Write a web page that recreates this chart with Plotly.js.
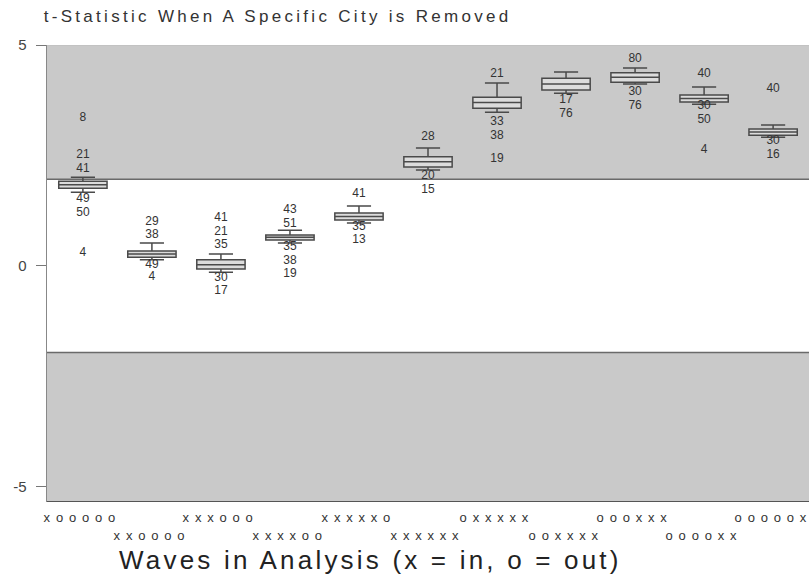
<!DOCTYPE html>
<html>
<head>
<meta charset="utf-8">
<script src="https://cdn.plot.ly/plotly-3.0.1.min.js"></script>
<style>
  body { margin: 0; background: #fff; }
  #chart { width: 809px; height: 576px; }
  .gtitle { letter-spacing: 3.3px; }
  .wavelab .annotation-text { letter-spacing: 5.8px; }
  .axtitle .annotation-text { letter-spacing: 3.2px; }
</style>
</head>
<body>
<div id="chart"></div>
<script>
// ---- data ----
const categories = ["xooooo", "xxoooo", "xxxooo", "xxxxoo", "xxxxxo", "xxxxxx",
                    "oxxxxx", "ooxxxx", "oooxxx", "ooooxx", "ooooox"];
const q1Vals     = [1.76, 0.20, -0.07, 0.59, 1.04, 2.24, 3.57, 3.98, 4.16, 3.71, 2.96];
const medianVals = [1.84, 0.27,  0.03, 0.65, 1.12, 2.36, 3.70, 4.12, 4.27, 3.79, 3.03];
const q3Vals     = [1.92, 0.34,  0.14, 0.70, 1.20, 2.47, 3.82, 4.25, 4.37, 3.87, 3.10];
const lowerVals  = [1.67, 0.14, -0.14, 0.52, 0.97, 2.17, 3.48, 3.91, 4.12, 3.66, 2.91];
const upperVals  = [2.01, 0.52,  0.27, 0.81, 1.36, 2.67, 4.14, 4.39, 4.48, 4.05, 3.19];

// outlying cities: category index, t-statistic, city label
const outCat   = [0, 0, 0, 0, 0, 0,
                  1, 1, 1, 1,
                  2, 2, 2, 2, 2,
                  3, 3, 3, 3, 3,
                  4, 4, 4,
                  5, 5, 5,
                  6, 6, 6, 6,
                  7, 7,
                  8, 8, 8,
                  9, 9, 9, 9,
                  10, 10, 10];
const outVal   = [3.35, 2.50, 2.20, 1.52, 1.20, 0.29,
                  1.00, 0.70, 0.02, -0.26,
                  1.08, 0.77, 0.47, -0.28, -0.56,
                  1.26, 0.95, 0.42, 0.12, -0.18,
                  1.62, 0.88, 0.58,
                  2.92, 2.04, 1.73,
                  4.34, 3.25, 2.93, 2.42,
                  3.76, 3.45,
                  4.68, 3.94, 3.63,
                  4.34, 3.62, 3.31, 2.62,
                  4.00, 2.82, 2.50];
const outCity  = ["8", "21", "41", "49", "50", "4",
                  "29", "38", "49", "4",
                  "41", "21", "35", "30", "17",
                  "43", "51", "35", "38", "19",
                  "41", "35", "13",
                  "28", "20", "15",
                  "21", "33", "38", "19",
                  "17", "76",
                  "80", "30", "76",
                  "40", "30", "50", "4",
                  "40", "30", "16"];

const yTickVals = [-5, 0, 5];
const critical = 1.96;
const xTitle = "Waves in Analysis (x = in, o = out)";

// ---- traces ----
const catIdx = categories.map((_, i) => i);

const boxTrace = {
  type: "box",
  x: catIdx,
  q1: q1Vals,
  median: medianVals,
  q3: q3Vals,
  lowerfence: lowerVals,
  upperfence: upperVals,
  boxpoints: false,
  width: 0.7,
  whiskerwidth: 0.5,
  fillcolor: "#dcdcdc",
  line: { color: "#4a4a4a", width: 1.5 },
  hoverinfo: "skip",
  showlegend: false
};

const labelTrace = {
  type: "scatter",
  mode: "text",
  x: outCat,
  y: outVal,
  text: outCity,
  textposition: "middle center",
  textfont: { family: "Liberation Sans, Arial, sans-serif", size: 12, color: "#333" },
  hoverinfo: "skip",
  showlegend: false
};

// ---- layout ----
const yMin = -5.34, yMax = 5;
const font = "Liberation Sans, Arial, sans-serif";

const waveAnnotations = categories.map((c, i) => ({
  x: i, xref: "x",
  y: 0, yref: "paper",
  yanchor: "middle",
  yshift: i % 2 === 0 ? -15 : -33,
  text: c,
  showarrow: false,
  font: { family: font, size: 13, color: "#333" }
}));

const titleAnnotation = {
  x: 0.425, xref: "paper",
  y: 0, yref: "paper",
  yanchor: "middle",
  yshift: -58,
  text: xTitle,
  showarrow: false,
  font: { family: font, size: 26, color: "#222" }
};

const layout = {
  width: 809, height: 576,
  margin: { l: 47, r: 0, t: 45, b: 74, pad: 0 },
  paper_bgcolor: "#fff",
  plot_bgcolor: "#fff",
  title: {
    text: "t-Statistic When A Specific City is Removed",
    font: { family: font, size: 17, color: "#333" },
    xref: "container", x: 0.054, xanchor: "left",
    yref: "container", y: 0.972, yanchor: "middle"
  },
  xaxis: {
    range: [-0.52, 10.52],
    showticklabels: false,
    ticks: "",
    showgrid: false,
    zeroline: false,
    showline: false,
    fixedrange: true
  },
  yaxis: {
    range: [yMin, yMax],
    tickvals: yTickVals,
    ticktext: yTickVals.map(String),
    ticks: "outside",
    ticklen: 10,
    tickcolor: "#777",
    tickwidth: 1,
    ticklabelstandoff: 6,
    tickfont: { family: font, size: 15, color: "#444" },
    showgrid: false,
    zeroline: false,
    showline: true,
    linecolor: "#888",
    linewidth: 1.5,
    fixedrange: true
  },
  shapes: [
    { type: "rect", xref: "paper", yref: "y", x0: 0, x1: 1, y0: critical, y1: yMax,
      fillcolor: "#c9c9c9", line: { width: 0 }, layer: "below" },
    { type: "rect", xref: "paper", yref: "y", x0: 0, x1: 1, y0: yMin, y1: -critical,
      fillcolor: "#c9c9c9", line: { width: 0 }, layer: "below" },
    { type: "line", xref: "paper", yref: "y", x0: 0, x1: 1, y0: critical, y1: critical,
      line: { color: "#6a6a6a", width: 1.5 }, layer: "below" },
    { type: "line", xref: "paper", yref: "y", x0: 0, x1: 1, y0: -critical, y1: -critical,
      line: { color: "#6a6a6a", width: 1.5 }, layer: "below" },
    { type: "line", xref: "paper", yref: "y", x0: 0, x1: 1, y0: yMin, y1: yMin,
      line: { color: "#555", width: 2 } },
    { type: "line", xref: "paper", yref: "y", x0: 0, x1: 1, y0: yMax, y1: yMax,
      line: { color: "#bbb", width: 1 } }
  ],
  annotations: waveAnnotations.concat([titleAnnotation]),
  showlegend: false
};

Plotly.newPlot("chart", [boxTrace, labelTrace], layout, { displayModeBar: false, staticPlot: true })
  .then(() => {
    const anns = document.querySelectorAll(".annotation");
    anns.forEach((a, i) => a.classList.add(i < categories.length ? "wavelab" : "axtitle"));
  });
</script>
</body>
</html>
